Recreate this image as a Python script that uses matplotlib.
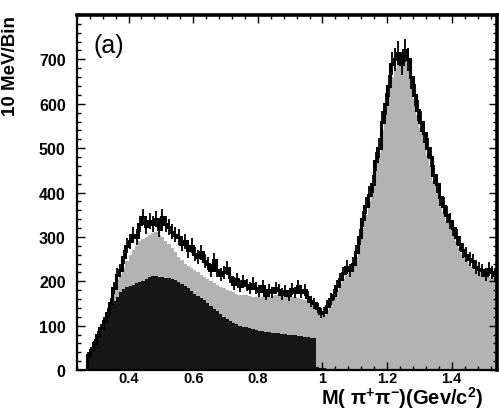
import numpy as np
import matplotlib
matplotlib.use("Agg")
import matplotlib.pyplot as plt
from matplotlib.ticker import MultipleLocator

# 10 MeV bins, first lower edge at 0.27 GeV/c^2
bin_start = 0.27
bin_width = 0.01

# measured M(pi+pi-) spectrum
data_counts = [
    35, 45, 62, 80, 95, 110, 128, 150, 185, 215,
    225, 255, 280, 290, 305, 300, 330, 345, 325, 335,
    330, 340, 318, 345, 330, 322, 312, 305, 300, 285,
    290, 270, 280, 262, 255, 265, 245, 240, 225, 248,
    225, 215, 220, 230, 210, 195, 205, 190, 200, 192,
    185, 195, 185, 178, 190, 170, 180, 175, 185, 180,
    172, 178, 168, 182, 175, 190, 175, 180, 165, 155,
    150, 140, 128, 130, 145, 160, 170, 190, 205, 218,
    232, 225, 240, 265, 300, 340, 370, 395, 420, 470,
    500, 560, 600, 640, 690, 700, 715, 690, 720, 700,
    660, 620, 585, 560, 535, 500, 480, 440, 420, 390,
    370, 350, 335, 320, 300, 285, 270, 260, 250, 245,
    232, 228, 225, 215, 228, 220, 215,
]

# total simulation (light fill)
mc_total = [
    30, 40, 55, 75, 90, 110, 130, 150, 180, 205,
    215, 230, 245, 260, 270, 280, 290, 295, 300, 305,
    308, 310, 305, 300, 290, 285, 275, 265, 255, 248,
    240, 235, 230, 225, 220, 215, 210, 205, 200, 196,
    192, 188, 184, 180, 178, 175, 172, 170, 168, 168,
    166, 165, 165, 164, 164, 165, 165, 166, 168, 168,
    167, 166, 165, 165, 164, 162, 160, 158, 155, 150,
    145, 138, 130, 125, 135, 150, 165, 180, 195, 205,
    215, 225, 235, 255, 285, 320, 350, 380, 410, 455,
    490, 540, 580, 620, 660, 680, 695, 700, 700, 680,
    650, 610, 575, 545, 515, 485, 460, 425, 400, 375,
    355, 335, 318, 305, 290, 275, 262, 250, 240, 232,
    225, 220, 215, 210, 210, 208, 205,
]

# background component (dark fill)
mc_background = [
    30, 45, 65, 80, 95, 115, 128, 142, 155, 165,
    175, 183, 188, 190, 192, 196, 198, 200, 205, 210,
    212, 212, 210, 210, 208, 207, 205, 202, 199, 194,
    190, 184, 178, 172, 167, 162, 158, 152, 145, 138,
    132, 126, 120, 115, 110, 106, 103, 100, 98, 96,
    95, 93, 91, 89, 87, 86, 85, 84, 83, 83,
    82, 81, 80, 79, 78, 77, 76, 75, 74, 73,
    72, 6, 5, 4, 3, 2,
]

y_ticks = [0, 100, 200, 300, 400, 500, 600, 700]
x_ticks = [0.4, 0.6, 0.8, 1.0, 1.2, 1.4]
x_tick_labels = ["0.4", "0.6", "0.8", "1", "1.2", "1.4"]


def main():
    plt.rcParams["font.family"] = ["Liberation Sans", "DejaVu Sans"]
    plt.rcParams["mathtext.fontset"] = "custom"
    plt.rcParams["mathtext.bf"] = "Liberation Sans:bold"
    plt.rcParams["mathtext.rm"] = "Liberation Sans:bold"
    plt.rcParams["mathtext.it"] = "Liberation Sans:bold"
    plt.rcParams["mathtext.default"] = "bf"

    data = np.array(data_counts, dtype=float)
    edges = bin_start + bin_width * np.arange(len(data) + 1)
    centers = 0.5 * (edges[:-1] + edges[1:])
    mc = np.array(mc_total, dtype=float)
    bkg = np.zeros(len(data))
    bkg[:len(mc_background)] = mc_background

    fig = plt.figure(figsize=(4.99, 4.10), dpi=100)
    ax = fig.add_axes([0.154, 0.095, 0.842, 0.866])

    ax.stairs(mc, edges, fill=True, color="#b3b3b3", zorder=1)
    ax.stairs(bkg, edges, fill=True, color="#171717", zorder=2)
    ax.stairs(data, edges, color="black", lw=2.2, zorder=3)
    ax.errorbar(centers, data, yerr=np.sqrt(data), fmt="none",
                ecolor="black", elinewidth=1.3, zorder=3)

    ax.set_xlim(0.24, 1.54)
    ax.set_ylim(0, 800)
    ax.set_yticks(y_ticks)
    ax.set_xticks(x_ticks)
    ax.set_xticklabels(x_tick_labels)
    ax.xaxis.set_minor_locator(MultipleLocator(0.04))
    ax.yaxis.set_minor_locator(MultipleLocator(20))
    ax.tick_params(which="both", direction="in", top=True, right=True,
                   width=1.0)
    ax.tick_params(which="major", length=6)
    ax.tick_params(which="minor", length=3)
    ax.tick_params(axis="y", pad=8, labelsize=11.5)
    ax.tick_params(axis="x", pad=1, labelsize=10.5)
    for lbl in ax.get_xticklabels() + ax.get_yticklabels():
        lbl.set_fontweight("bold")
    for side, sp in ax.spines.items():
        sp.set_linewidth(2.6 if side in ("top", "right") else 1.6)

    ax.set_ylabel("10 MeV/Bin", fontsize=13.5, fontweight="bold")
    ax.yaxis.set_label_coords(-0.138, 0.86)
    ax.set_xlabel(r"M( $\pi^{+}\pi^{-}$)(Gev/c$^{2}$)", fontsize=14.5,
                  fontweight="bold")
    ax.xaxis.label.set_va("center")
    ax.xaxis.set_label_coords(0.774, -0.076)

    ax.text(0.04, 0.915, "(a)", transform=ax.transAxes, fontsize=18,
            va="center", ha="left")

    fig.savefig("out.png", dpi=100)


if __name__ == "__main__":
    main()
